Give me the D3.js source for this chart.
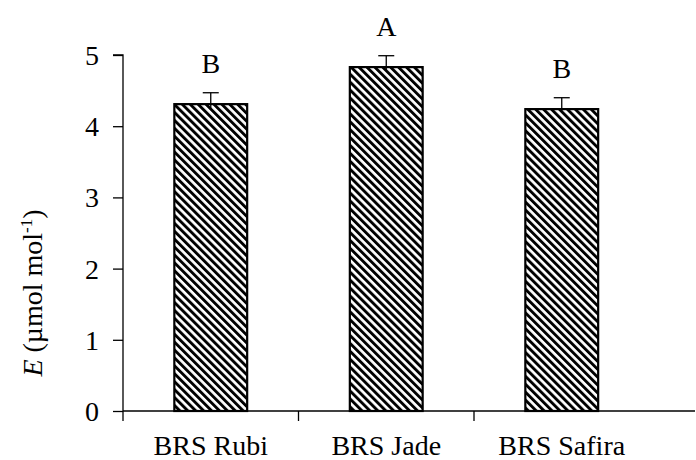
<!DOCTYPE html>
<html>
<head>
<meta charset="utf-8">
<script src="https://cdn.jsdelivr.net/npm/d3@7"></script>
<style>
  body { margin: 0; background: #fff; }
  text { font-family: "Liberation Serif", "Times New Roman", serif; fill: #000; }
</style>
</head>
<body>
<div id="chart"></div>
<script>
const cultivars = ['BRS Rubi', 'BRS Jade', 'BRS Safira'];
const meanE = [4.31, 4.83, 4.24];
const errE = [0.16, 0.16, 0.16];
const letters = ['B', 'A', 'B'];
const yTicks = [0, 1, 2, 3, 4, 5];

const W = 696, H = 460;
const margin = {top: 55, left: 123, bottom: 49};
const plotH = H - margin.top - margin.bottom;
const serif = '"Liberation Serif", "Times New Roman", serif';

const svg = d3.select('#chart').append('svg')
  .attr('width', W).attr('height', H);

// hatch pattern (diagonal stripes)
const pat = svg.append('defs').append('pattern')
  .attr('id', 'hatch')
  .attr('patternUnits', 'userSpaceOnUse')
  .attr('width', 5.6).attr('height', 5.6)
  .attr('patternTransform', 'rotate(-45)');
pat.append('rect').attr('width', 5.6).attr('height', 5.6).attr('fill', '#fff');
pat.append('rect').attr('width', 2.9).attr('height', 5.6).attr('fill', '#000');

const chart = svg.append('g')
  .attr('transform', `translate(${margin.left}, ${margin.top})`);

const scaleX = d3.scaleBand()
  .domain(cultivars)
  .range([0, 526.5])
  .paddingInner(0.585)
  .paddingOuter(0.2925);

const scaleY = d3.scaleLinear()
  .domain([0, 5])
  .range([plotH, 0]);

// y axis
const yAxis = d3.axisLeft(scaleY)
  .tickValues(yTicks)
  .tickFormat(d3.format('d'))
  .tickSize(10)
  .tickPadding(14);
const yG = chart.append('g').call(yAxis)
  .attr('font-family', serif);
yG.select('.domain').attr('stroke', '#000').attr('stroke-width', 1.3)
  .attr('d', `M-10,0H0V${plotH}`);
yG.selectAll('.tick line').attr('stroke', '#000').attr('stroke-width', 1.3);
yG.selectAll('.tick text')
  .style('font-family', serif)
  .style('font-size', '28px')
  .attr('dy', '0.34em');

// x axis line + ticks at band starts
const step = scaleX.step();
chart.append('line')
  .attr('x1', 0).attr('x2', W - margin.left - 1)
  .attr('y1', plotH).attr('y2', plotH)
  .attr('stroke', '#000').attr('stroke-width', 1.3);
chart.selectAll('.xtick')
  .data(cultivars)
  .enter()
  .append('line')
  .attr('class', 'xtick')
  .attr('x1', (d, i) => i * step).attr('x2', (d, i) => i * step)
  .attr('y1', plotH).attr('y2', plotH + 10)
  .attr('stroke', '#000').attr('stroke-width', 1.3);

chart.selectAll('.xlabel')
  .data(cultivars)
  .enter()
  .append('text')
  .attr('class', 'xlabel')
  .attr('x', d => scaleX(d) + scaleX.bandwidth() / 2)
  .attr('y', plotH + 44)
  .attr('text-anchor', 'middle')
  .style('font-size', '28px')
  .text(d => d);

const data = cultivars.map((c, i) => ({c, v: meanE[i], e: errE[i], l: letters[i]}));

// bars
chart.selectAll('.bar')
  .data(data)
  .enter()
  .append('rect')
  .attr('class', 'bar')
  .attr('x', d => scaleX(d.c))
  .attr('y', d => scaleY(d.v))
  .attr('width', scaleX.bandwidth())
  .attr('height', d => plotH - scaleY(d.v))
  .attr('fill', 'url(#hatch)')
  .attr('stroke', '#000')
  .attr('stroke-width', 2.2);

// error bars (upper only)
const eb = chart.selectAll('.err')
  .data(data)
  .enter()
  .append('g')
  .attr('class', 'err');
eb.append('line')
  .attr('x1', d => scaleX(d.c) + scaleX.bandwidth() / 2)
  .attr('x2', d => scaleX(d.c) + scaleX.bandwidth() / 2)
  .attr('y1', d => scaleY(d.v) + 4)
  .attr('y2', d => scaleY(d.v + d.e))
  .attr('stroke', '#000').attr('stroke-width', 1.3);
eb.append('line')
  .attr('x1', d => scaleX(d.c) + scaleX.bandwidth() / 2 - 8)
  .attr('x2', d => scaleX(d.c) + scaleX.bandwidth() / 2 + 8)
  .attr('y1', d => scaleY(d.v + d.e))
  .attr('y2', d => scaleY(d.v + d.e))
  .attr('stroke', '#000').attr('stroke-width', 1.3);

// significance letters
chart.selectAll('.letter')
  .data(data)
  .enter()
  .append('text')
  .attr('class', 'letter')
  .attr('x', d => scaleX(d.c) + scaleX.bandwidth() / 2)
  .attr('y', d => scaleY(d.v + d.e) - 20)
  .attr('text-anchor', 'middle')
  .style('font-size', '28px')
  .text(d => d.l);

// y axis title
const yTitle = svg.append('text')
  .attr('transform', 'translate(42, 293) rotate(-90)')
  .attr('text-anchor', 'middle')
  .style('font-size', '28px');
yTitle.append('tspan').style('font-style', 'italic').text('E');
yTitle.append('tspan').text(' (µmol mol');
yTitle.append('tspan').attr('dy', -10).style('font-size', '17px').text('-1');
yTitle.append('tspan').attr('dy', 10).text(')');
</script>
</body>
</html>
